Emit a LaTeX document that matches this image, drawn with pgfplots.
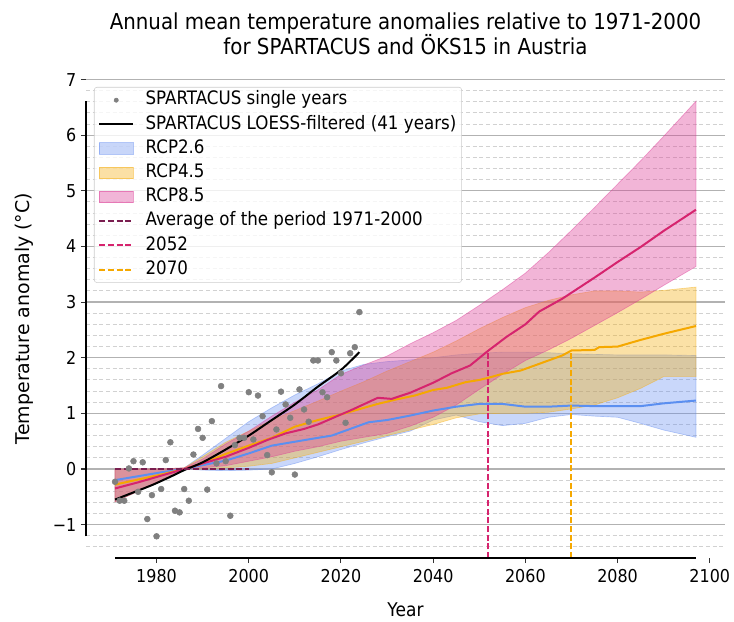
\documentclass[border=0pt]{standalone}
\usepackage{fontspec}
\setmainfont{DejaVu Sans}[FakeStretch=0.9]
\newfontfamily\ylabfont{DejaVu Sans}
\usepackage{pgfplots}
\pgfplotsset{compat=1.18}

\definecolor{scgray}{RGB}{128,128,128}
\definecolor{bluel}{RGB}{91,143,240}
\definecolor{bluef}{RGB}{100,140,240}
\definecolor{orangel}{RGB}{245,168,0}
\definecolor{orangef}{RGB}{245,175,20}
\definecolor{pinkl}{RGB}{214,36,110}
\definecolor{pinkf}{RGB}{220,60,150}
\definecolor{avgc}{RGB}{122,30,80}

\begin{document}
\begin{tikzpicture}
\useasboundingbox (-64.5pt,-47.25pt) rectangle (486pt,418.5pt);
\begin{axis}[
  at={(0,0)}, anchor=south west,
  scale only axis, width=479.25pt, height=359.25pt,
  xmin=1964.7, xmax=2103.3, ymin=-1.6, ymax=7.01,
  clip=false,
  axis line style={draw=none},
  xtick={1980,2000,2020,2040,2060,2080,2100},
  xticklabels={1980,2000,2020,2040,2060,2080,2100},
  ytick={-1,0,1,2,3,4,5,6,7},
  yticklabels={−1,0,1,2,3,4,5,6,7},
  minor ytick={-1.4,-1.2,-0.8,-0.6,-0.4,-0.2,0.2,0.4,0.6,0.8,1.2,1.4,1.6,1.8,2.2,2.4,2.6,2.8,3.2,3.4,3.6,3.8,4.2,4.4,4.6,4.8,5.2,5.4,5.6,5.8,6.2,6.4,6.6,6.8},
  xtick pos=bottom, ytick pos=left,
  tick align=outside,
  major tick length=3.75pt, minor tick length=0pt,
  tick style={black!80, line width=0.8pt},
  ymajorgrids=true, yminorgrids=true,
  major grid style={color=black!30, line width=0.9pt},
  minor grid style={color=black!18, line width=0.75pt, dash pattern=on 3pt off 2pt},
  /pgf/number format/assume math mode=true,
  ticklabel style={font=\fontsize{13.3}{15}\selectfont},
  xticklabel style={anchor=center, yshift=-10pt},
  yticklabel style={anchor=east, xshift=0pt},
  title={Annual mean temperature anomalies relative to 1971-2000\\for SPARTACUS and ÖKS15 in Austria},
  title style={at={(axis description cs:0.5,1.0785)}, anchor=center, align=center, font=\fontsize{16.5}{18.75}\selectfont},
  xlabel={Year},
  xlabel style={at={(axis description cs:0.5,-0.1086)}, anchor=center, font=\fontsize{14.2}{16}\selectfont},
  ylabel={Temperature anomaly (°C)},
  every axis y label/.style={at={(axis description cs:-0.097,0.5)}, anchor=center, rotate=90, font=\ylabfont\fontsize{14.2}{16}\selectfont},
  legend cell align=left,
  legend style={at={(axis description cs:0.0125,0.9833)}, anchor=north west,
    draw=black!20, rounded corners=2pt, fill=white, fill opacity=0.8, draw opacity=1, text opacity=1,
    font=\fontsize{13.9}{15}\selectfont, inner xsep=3pt, inner ysep=2.2pt, row sep=3.15pt, column sep=7.5pt,
    nodes={inner sep=1pt, text height=10pt, text depth=3pt}},
]

% single years
\addplot[only marks, mark=*, mark size=2.2pt, color=scgray, forget plot] coordinates {
(1971,-0.23) (1972,-0.57) (1973,-0.57) (1974,0.01) (1975,0.14) (1976,-0.41) (1977,0.12) (1978,-0.90) (1979,-0.47) (1980,-1.21)
(1981,-0.36) (1982,0.16) (1983,0.48) (1984,-0.75) (1985,-0.78) (1986,-0.36) (1987,-0.57) (1988,0.26) (1989,0.72) (1990,0.56)
(1991,-0.37) (1992,0.86) (1993,0.10) (1994,1.49) (1995,0.14) (1996,-0.84) (1997,0.43) (1998,0.56) (1999,0.56) (2000,1.38)
(2001,0.53) (2002,1.32) (2003,0.95) (2004,0.25) (2005,-0.06) (2006,0.71) (2007,1.39) (2008,1.16) (2009,0.92) (2010,-0.10)
(2011,1.43) (2012,1.07) (2013,0.85) (2014,1.95) (2015,1.95) (2016,1.38) (2017,1.29) (2018,2.10) (2019,1.95) (2020,1.72)
(2021,0.83) (2022,2.08) (2023,2.19) (2024,2.82)};

% RCP2.6 band (lower edge forward, upper edge backward)
\addplot[fill=bluef, fill opacity=0.35, draw=bluef, draw opacity=0.45, line width=0.5pt, forget plot] coordinates {
(1971,-0.59) (1976,-0.40) (1981,-0.20) (1986,0.00) (1990,-0.02) (1995,-0.03) (2000,-0.02) (2005,0.00) (2010,0.10) (2015,0.22) (2020,0.35) (2025,0.47) (2030,0.58) (2035,0.68) (2040,0.88) (2045,0.97) (2050,0.85) (2055,0.78) (2060,0.82) (2065,0.93) (2070,0.98) (2075,0.95) (2080,0.93) (2085,0.82) (2090,0.70) (2097,0.57)
(2097,2.04) (2090,2.05) (2085,2.05) (2080,2.05) (2075,2.06) (2070,2.07) (2065,2.09) (2060,2.10) (2055,2.10) (2050,2.08) (2045,2.05) (2040,2.00) (2035,1.96) (2030,1.93) (2025,1.88) (2020,1.76) (2015,1.53) (2010,1.33) (2005,1.10) (2000,0.85) (1995,0.55) (1990,0.25) (1986,0.02) (1981,0.00) (1976,0.00) (1971,0.00)} -- cycle;

% RCP4.5 band
\addplot[fill=orangef, fill opacity=0.38, draw=orangef, draw opacity=0.45, line width=0.5pt, forget plot] coordinates {
(1971,-0.59) (1976,-0.40) (1981,-0.20) (1986,0.00) (1990,0.00) (1995,0.02) (2000,0.05) (2005,0.10) (2010,0.20) (2015,0.30) (2020,0.40) (2025,0.50) (2030,0.60) (2035,0.70) (2040,0.80) (2045,0.92) (2050,0.99) (2055,1.00) (2060,1.00) (2065,1.02) (2070,1.08) (2075,1.15) (2080,1.28) (2085,1.45) (2090,1.66) (2097,1.66)
(2097,3.27) (2090,3.21) (2085,3.18) (2080,3.20) (2075,3.20) (2070,3.13) (2065,3.03) (2060,2.90) (2055,2.72) (2050,2.52) (2045,2.30) (2040,2.10) (2035,1.93) (2030,1.76) (2025,1.57) (2020,1.40) (2015,1.22) (2010,1.05) (2005,0.88) (2000,0.68) (1995,0.48) (1990,0.22) (1986,0.02) (1981,0.00) (1976,0.00) (1971,0.00)} -- cycle;

% RCP8.5 band
\addplot[fill=pinkf, fill opacity=0.38, draw=pinkf, draw opacity=0.45, line width=0.5pt, forget plot] coordinates {
(1971,-0.59) (1976,-0.40) (1981,-0.20) (1986,0.00) (1990,0.02) (1995,0.06) (2000,0.14) (2005,0.22) (2010,0.32) (2015,0.40) (2020,0.50) (2025,0.57) (2030,0.64) (2035,0.77) (2040,0.93) (2045,1.15) (2050,1.43) (2055,1.70) (2060,1.95) (2065,2.14) (2070,2.35) (2075,2.58) (2080,2.81) (2085,3.05) (2090,3.30) (2097,3.64)
(2097,6.61) (2090,5.98) (2085,5.54) (2080,5.12) (2075,4.70) (2070,4.29) (2065,3.89) (2060,3.52) (2055,3.22) (2050,2.94) (2045,2.67) (2040,2.45) (2035,2.25) (2030,2.03) (2025,1.87) (2020,1.70) (2015,1.42) (2010,1.20) (2005,0.95) (2000,0.68) (1995,0.45) (1990,0.18) (1986,0.02) (1981,0.00) (1976,0.00) (1971,0.00)} -- cycle;

% medians
\addplot[bluel, line width=1.5pt, forget plot] coordinates {
(1971,-0.20) (1976,-0.13) (1981,-0.06) (1986,0.0) (1990,0.07) (1995,0.15) (2000,0.28) (2005,0.42) (2010,0.49) (2015,0.56) (2018,0.60) (2022,0.72) (2026,0.84) (2030,0.88) (2035,0.96) (2040,1.05) (2045,1.12) (2050,1.17) (2055,1.17) (2060,1.12) (2065,1.12) (2070,1.14) (2075,1.13) (2080,1.13) (2085,1.13) (2090,1.18) (2097,1.23)};
\addplot[orangel, line width=1.5pt, forget plot] coordinates {
(1971,-0.28) (1976,-0.19) (1981,-0.10) (1986,0.0) (1990,0.10) (1995,0.27) (2000,0.42) (2005,0.56) (2010,0.76) (2015,0.88) (2020,0.98) (2025,1.10) (2028,1.17) (2032,1.25) (2036,1.32) (2040,1.42) (2043,1.46) (2047,1.56) (2050,1.60) (2052,1.64) (2055,1.71) (2059,1.77) (2063,1.89) (2068,2.04) (2070,2.13) (2075,2.14) (2076,2.19) (2080,2.20) (2085,2.32) (2090,2.43) (2097,2.57)};
\addplot[pinkl, line width=1.5pt, forget plot] coordinates {
(1971,-0.35) (1976,-0.24) (1981,-0.12) (1986,0.0) (1990,0.10) (1995,0.22) (2000,0.38) (2004,0.52) (2008,0.64) (2012,0.72) (2015,0.80) (2020,0.98) (2022,1.05) (2028,1.28) (2031,1.26) (2035,1.37) (2040,1.55) (2044,1.72) (2048,1.86) (2052,2.13) (2056,2.38) (2060,2.60) (2063,2.83) (2068,3.06) (2075,3.44) (2080,3.72) (2085,3.99) (2090,4.28) (2097,4.66)};

% LOESS
\addplot[black, line width=1.5pt, smooth, forget plot] coordinates {
(1971,-0.55) (1975,-0.42) (1979,-0.29) (1983,-0.14) (1986,-0.02) (1990,0.12) (1995,0.35) (2000,0.60) (2005,0.88) (2010,1.16) (2015,1.48) (2020,1.78) (2024,2.10)};

% average, marker lines
\addplot[avgc, line width=1.5pt, dash pattern=on 4.5pt off 2pt, forget plot] coordinates {(1971,0) (2000,0)};
\addplot[pinkl, line width=1.5pt, dash pattern=on 4.5pt off 2pt, forget plot] coordinates {(2052,-1.6) (2052,2.13)};
\addplot[orangel, line width=1.5pt, dash pattern=on 4.5pt off 2pt, forget plot] coordinates {(2070,-1.6) (2070,2.13)};

% spines
\draw[black, line width=1.4pt] (axis cs:1964.7,-1.21) -- (axis cs:1964.7,6.61);
\draw[black, line width=1.6pt] (axis cs:1971,-1.6) -- (axis cs:2097,-1.6);

% legend
\addlegendimage{legend image code/.code={\path[draw=none,fill=none] (0pt,-4.4pt) rectangle (25.5pt,4.4pt); \fill[scgray, fill opacity=1] (12.75pt,0pt) circle (1.6pt);}}
\addlegendentry{SPARTACUS single years}
\addlegendimage{legend image code/.code={\path[draw=none,fill=none] (0pt,-4.4pt) rectangle (25.5pt,4.4pt); \draw[black, line width=1.5pt] (0pt,0pt) -- (25.5pt,0pt);}}
\addlegendentry{SPARTACUS LOESS-filtered (41 years)}
\addlegendimage{legend image code/.code={\filldraw[sharp corners, fill=bluef, fill opacity=0.35, draw=bluef, draw opacity=0.5, line width=0.6pt] (0pt,-4.4pt) rectangle (25.5pt,4.4pt);}}
\addlegendentry{RCP2.6}
\addlegendimage{legend image code/.code={\filldraw[sharp corners, fill=orangef, fill opacity=0.38, draw=orangef, draw opacity=0.5, line width=0.6pt] (0pt,-4.4pt) rectangle (25.5pt,4.4pt);}}
\addlegendentry{RCP4.5}
\addlegendimage{legend image code/.code={\filldraw[sharp corners, fill=pinkf, fill opacity=0.38, draw=pinkf, draw opacity=0.5, line width=0.6pt] (0pt,-4.4pt) rectangle (25.5pt,4.4pt);}}
\addlegendentry{RCP8.5}
\addlegendimage{legend image code/.code={\path[draw=none,fill=none] (0pt,-4.4pt) rectangle (25.5pt,4.4pt); \draw[avgc, line width=1.5pt, dash pattern=on 4.5pt off 2pt] (0pt,0pt) -- (25.5pt,0pt);}}
\addlegendentry{Average of the period 1971-2000}
\addlegendimage{legend image code/.code={\path[draw=none,fill=none] (0pt,-4.4pt) rectangle (25.5pt,4.4pt); \draw[pinkl, line width=1.5pt, dash pattern=on 4.5pt off 2pt] (0pt,0pt) -- (25.5pt,0pt);}}
\addlegendentry{2052}
\addlegendimage{legend image code/.code={\path[draw=none,fill=none] (0pt,-4.4pt) rectangle (25.5pt,4.4pt); \draw[orangel, line width=1.5pt, dash pattern=on 4.5pt off 2pt] (0pt,0pt) -- (25.5pt,0pt);}}
\addlegendentry{2070}
\end{axis}
\end{tikzpicture}
\end{document}
